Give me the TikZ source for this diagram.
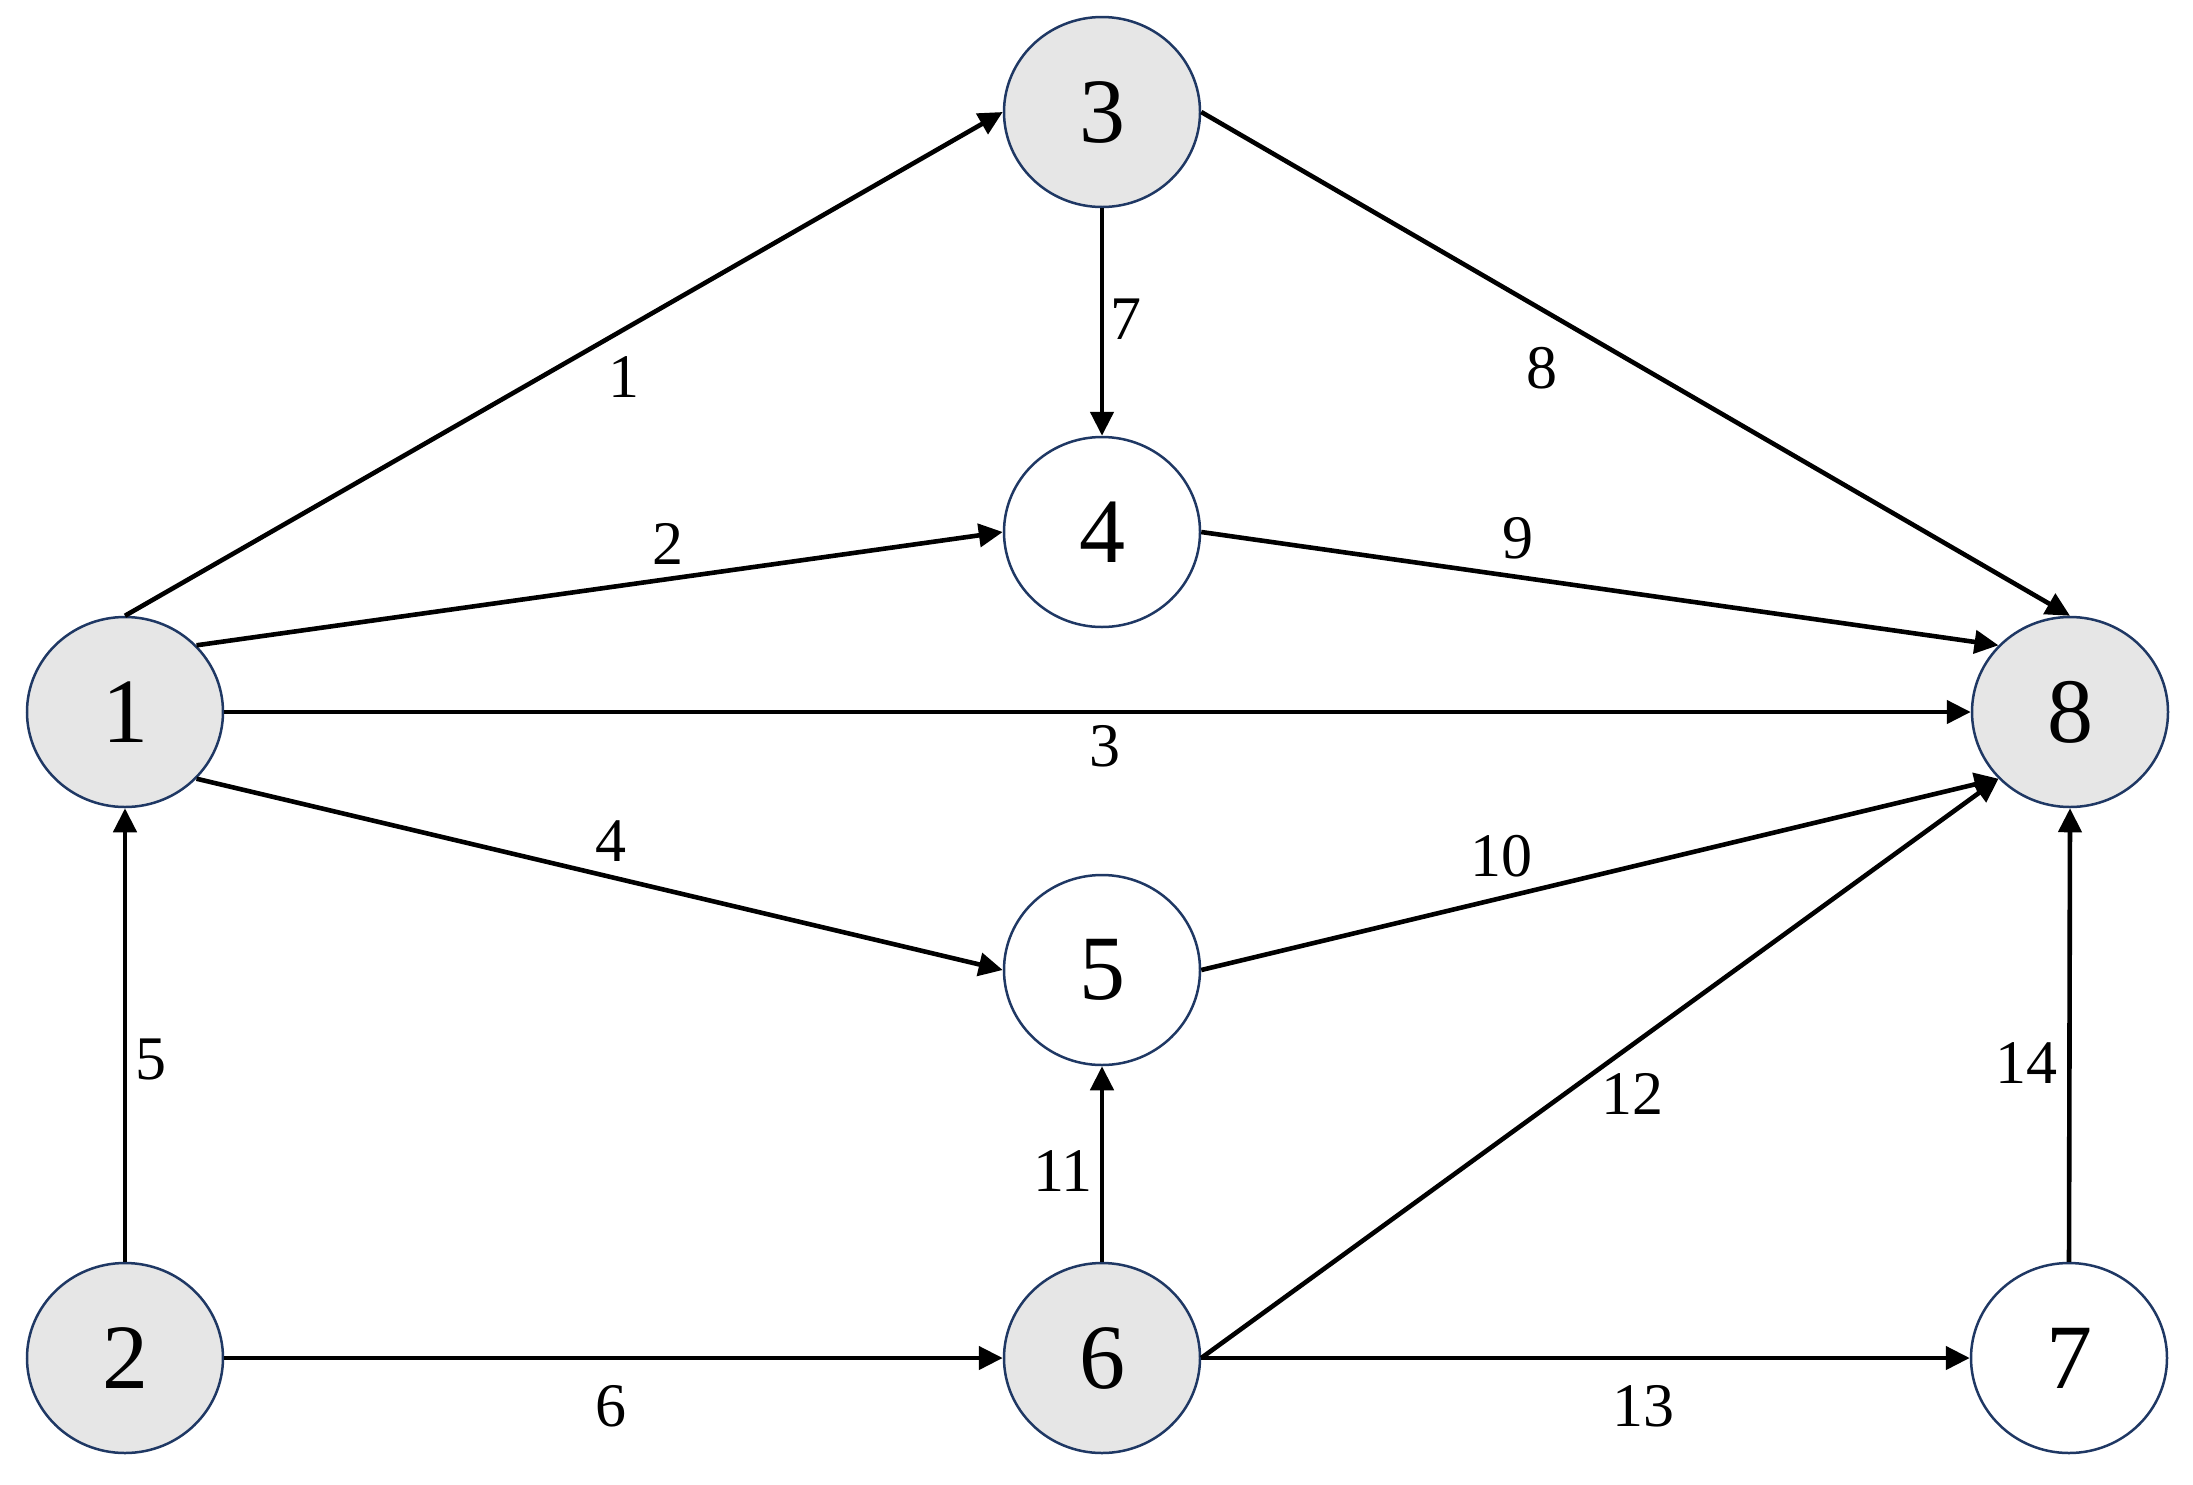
\documentclass[tikz,border=0pt]{standalone}
\usepackage{fontspec}
\setmainfont{Liberation Serif}
\usetikzlibrary{shapes.geometric,arrows.meta}
\definecolor{nodeborder}{HTML}{1F3864}
\definecolor{nodefill}{HTML}{E6E6E6}
\begin{document}
\begin{tikzpicture}[x=1pt,y=-1pt,
  vtx/.style={ellipse, draw=nodeborder, line width=2.5pt, minimum width=196pt, minimum height=190pt, inner sep=0pt, font=\fontsize{92}{92}\selectfont},
  grayv/.style={vtx, fill=nodefill},
  whitev/.style={vtx, fill=white},
  edge/.style={-{Triangle[length=24pt,width=23pt]}, line width=4.6pt, black},
  lbl/.style={font=\fontsize{62}{62}\selectfont, inner sep=0pt}]
\useasboundingbox (0,0) rectangle (2193,1484);
% vertices
\node[grayv]  (n1) at (125,712)  {1};
\node[grayv]  (n2) at (125,1358) {2};
\node[grayv]  (n3) at (1102,112) {3};
\node[whitev] (n4) at (1102,532) {4};
\node[whitev] (n5) at (1102,970) {5};
\node[grayv]  (n6) at (1102,1358) {6};
\node[whitev] (n7) at (2069,1358) {7};
\node[grayv]  (n8) at (2070,712) {8};
% edges
\draw[edge] (n1.north) -- (n3.west);
\draw[edge] (n1.43) -- (n4.west);
\draw[edge] (n1.east) -- (n8.west);
\draw[edge] (n1.-43) -- (n5.west);
\draw[edge] (n2.north) -- (n1.south);
\draw[edge] (n2.east) -- (n6.west);
\draw[edge] (n3.south) -- (n4.north);
\draw[edge] (n3.east) -- (n8.north);
\draw[edge] (n4.east) -- (n8.137);
\draw[edge] (n5.east) -- (n8.223);
\draw[edge] (n6.north) -- (n5.south);
\draw[edge] (n6.east) -- (n8.223);
\draw[edge] (n6.east) -- (n7.west);
\draw[edge] (n7.north) -- (n8.south);
% edge labels
\node[lbl] (l1)  at (624,377)   {1};
\node[lbl] (l2)  at (668,544)   {2};
\node[lbl] (l3)  at (1105,746)  {3};
\node[lbl] (l4)  at (611,841)   {4};
\node[lbl] (l5)  at (151,1059)  {5};
\node[lbl] (l6)  at (611,1406)  {6};
\node[lbl] (l7)  at (1126,319)  {7};
\node[lbl] (l8)  at (1542,368)  {8};
\node[lbl] (l9)  at (1518,538)  {9};
\node[lbl] (l10) at (1501,856)  {10};
\node[lbl] (l11) at (1063,1171) {11};
\node[lbl] (l12) at (1632,1094) {12};
\node[lbl] (l13) at (1643,1406) {13};
\node[lbl] (l14) at (2026,1063) {14};
\end{tikzpicture}
\end{document}
